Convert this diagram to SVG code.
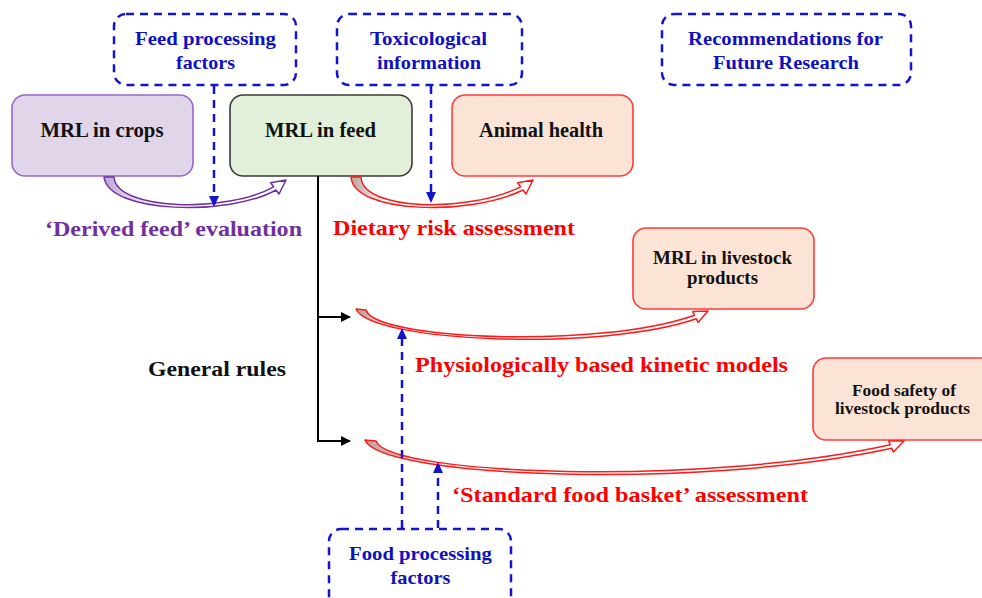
<svg xmlns="http://www.w3.org/2000/svg" width="982" height="598" viewBox="0 0 982 598">
<style>
text{font-family:"Liberation Serif","Times New Roman",serif;font-weight:bold;text-anchor:middle}
.blk{fill:#111}
.blu{fill:#1010C0;font-size:19px}
.lbl{font-size:22px}
.dash{fill:#fff;stroke:#1414CC;stroke-width:2.5;stroke-dasharray:8 6}
.dl{fill:none;stroke:#1414CC;stroke-width:2.5;stroke-dasharray:8 6}
.peach{fill:#FBE4D6;stroke:#FF3B3B;stroke-width:1.6}
</style>
<defs>
<linearGradient id="gp" x1="0" y1="0" x2="1" y2="0"><stop offset="0" stop-color="#BFA6D6"/><stop offset="0.3" stop-color="#fff"/></linearGradient>
<linearGradient id="gr" x1="0" y1="0" x2="1" y2="0"><stop offset="0" stop-color="#BBA29E"/><stop offset="0.2" stop-color="#fff"/></linearGradient>
<marker id="ab" markerWidth="10" markerHeight="10" refX="9" refY="5" orient="auto" markerUnits="userSpaceOnUse"><path d="M0,0 L10,5 L0,10 Z" fill="#000"/></marker>
</defs>

<g id="feed-processing">
<rect class="dash" x="114" y="14" width="182" height="71" rx="12"/>
<text class="blu" x="205.5" y="45" textLength="141" lengthAdjust="spacingAndGlyphs">Feed processing</text>
<text class="blu" x="205.5" y="69" textLength="59" lengthAdjust="spacingAndGlyphs">factors</text>
</g>
<g id="toxicological">
<rect class="dash" x="337" y="14" width="185" height="71" rx="12"/>
<text class="blu" x="428.5" y="45" textLength="117" lengthAdjust="spacingAndGlyphs">Toxicological</text>
<text class="blu" x="429" y="69" textLength="104" lengthAdjust="spacingAndGlyphs">information</text>
</g>
<g id="recommendations">
<rect class="dash" x="662" y="14" width="249" height="71" rx="12"/>
<text class="blu" x="785.5" y="45" textLength="195" lengthAdjust="spacingAndGlyphs">Recommendations for</text>
<text class="blu" x="786" y="69" textLength="146" lengthAdjust="spacingAndGlyphs">Future Research</text>
</g>

<g id="mrl-crops">
<rect x="12" y="95" width="181" height="81" rx="13" fill="#E1D5EA" stroke="#9966CC" stroke-width="1.6"/>
<text class="blk" x="102" y="137" font-size="20" textLength="123" lengthAdjust="spacingAndGlyphs">MRL in crops</text>
</g>
<g id="mrl-feed">
<rect x="230" y="95" width="182" height="81" rx="13" fill="#E2EFD9" stroke="#3A3A3A" stroke-width="1.6"/>
<text class="blk" x="320.5" y="137" font-size="20" textLength="111" lengthAdjust="spacingAndGlyphs">MRL in feed</text>
</g>
<g id="animal-health">
<rect class="peach" x="452" y="95" width="181" height="81" rx="13"/>
<text class="blk" x="541" y="137" font-size="20" textLength="124" lengthAdjust="spacingAndGlyphs">Animal health</text>
</g>
<g id="mrl-livestock">
<rect class="peach" x="633" y="228" width="181" height="81" rx="13"/>
<text class="blk" x="722.5" y="264" font-size="18" textLength="139" lengthAdjust="spacingAndGlyphs">MRL in livestock</text>
<text class="blk" x="722.5" y="284" font-size="18" textLength="71" lengthAdjust="spacingAndGlyphs">products</text>
</g>
<g id="food-safety">
<rect class="peach" x="813" y="358" width="185" height="82" rx="13"/>
<text class="blk" x="904" y="396" font-size="16" textLength="104" lengthAdjust="spacingAndGlyphs">Food safety of</text>
<text class="blk" x="902.5" y="414" font-size="16" textLength="135" lengthAdjust="spacingAndGlyphs">livestock products</text>
</g>
<g id="food-processing">
<rect class="dash" x="329" y="529" width="182" height="90" rx="12"/>
<text class="blu" x="420.5" y="560" textLength="143" lengthAdjust="spacingAndGlyphs">Food processing</text>
<text class="blu" x="420.5" y="584" textLength="60" lengthAdjust="spacingAndGlyphs">factors</text>
</g>

<g id="labels">
<text class="lbl" x="173.5" y="236" fill="#7030A0" textLength="257" lengthAdjust="spacingAndGlyphs">‘Derived feed’ evaluation</text>
<text class="lbl" x="454" y="235" fill="#FF0000" textLength="242" lengthAdjust="spacingAndGlyphs">Dietary risk assessment</text>
<text class="lbl" x="601.5" y="372" fill="#FF0000" textLength="373" lengthAdjust="spacingAndGlyphs">Physiologically based kinetic models</text>
<text class="lbl" x="630" y="502" fill="#FF0000" textLength="356" lengthAdjust="spacingAndGlyphs">‘Standard food basket’ assessment</text>
<text class="blk" x="217" y="376" font-size="20" textLength="138" lengthAdjust="spacingAndGlyphs">General rules</text>
</g>

<g id="connectors">
<path d="M104,177 C108,214 230,216 276,190 L279,194 L286,180 L270.6,182.8 L273.6,186.8 C228,213 116,211 114,177 Z" fill="url(#gp)" stroke="#7030A0" stroke-width="1.5" stroke-linejoin="round"/>
<path d="M351,177 C354,214 470,216 523,190 L526,194 L533,180 L517.6,182.8 L520.6,186.8 C468,213 362,211 361,177 Z" fill="url(#gr)" stroke="#FF1A1A" stroke-width="1.5" stroke-linejoin="round"/>
<path d="M356,309 C370,342 600,352 696.3,318.8 L698,322.4 L708,311 L692.8,311.6 L694.5,315.2 C600,349 375,340 366,310 Z" fill="url(#gr)" stroke="#FF1A1A" stroke-width="1.5" stroke-linejoin="round"/>
<path d="M365,440 C380,478 700,490 891.8,448.3 L893.3,452 L904,441 L888.7,441 L890.2,444.7 C700,487 388,475 376,441 Z" fill="url(#gr)" stroke="#FF1A1A" stroke-width="1.5" stroke-linejoin="round"/>

<path class="dl" d="M214,86 V197"/>
<path d="M209,196 L219,196 L214,207 Z" fill="#1414CC"/>
<path class="dl" d="M431,86 V192"/>
<path d="M426,192 L436,192 L431,203 Z" fill="#1414CC"/>
<path class="dl" d="M402,528 V338"/>
<path d="M397,339 L407,339 L402,328 Z" fill="#1414CC"/>
<path class="dl" d="M438,528 V472"/>
<path d="M433,473 L443,473 L438,462 Z" fill="#1414CC"/>

<path d="M318,176 V441 H350" fill="none" stroke="#000" stroke-width="2" marker-end="url(#ab)"/>
<path d="M318,317 H350" fill="none" stroke="#000" stroke-width="2" marker-end="url(#ab)"/>
</g>
</svg>
